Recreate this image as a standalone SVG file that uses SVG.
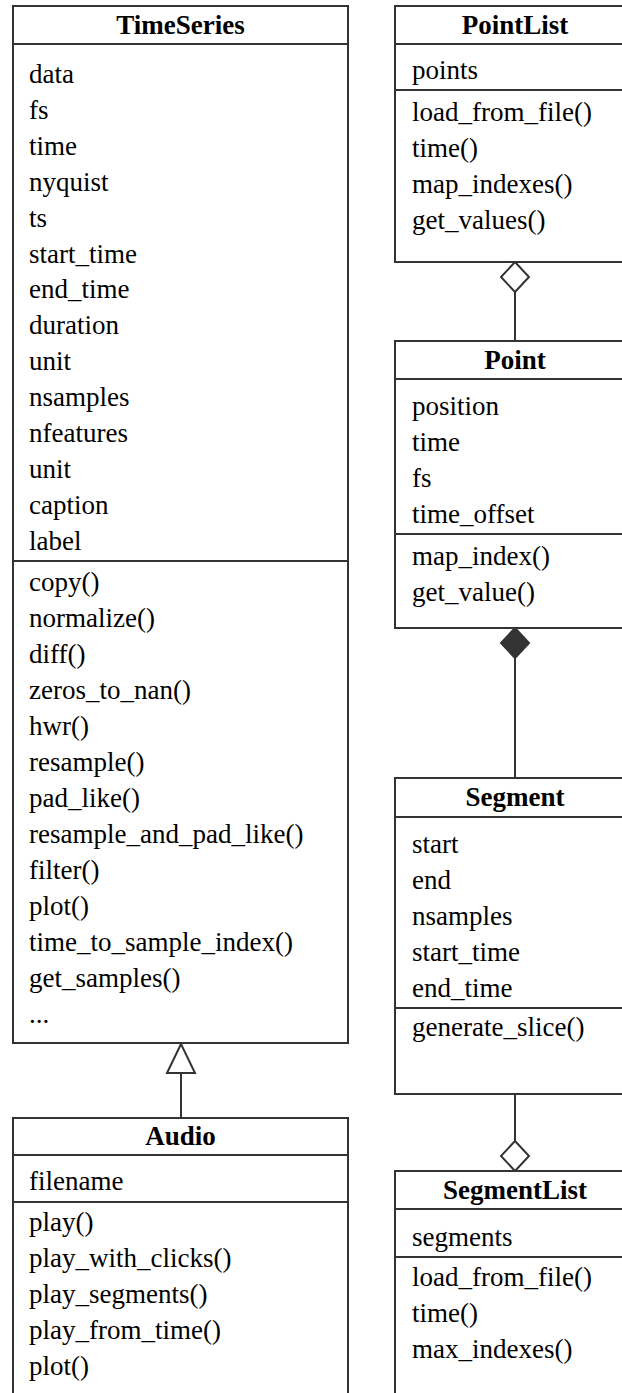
<svg xmlns="http://www.w3.org/2000/svg" width="622" height="1393" viewBox="0 0 622 1393">
<style>
.box{fill:#fff;stroke:#333;stroke-width:2}
.sep{stroke:#333;stroke-width:2}
.t{font-family:"Liberation Serif","Times New Roman",serif;font-size:27px;fill:#000}
.h{font-family:"Liberation Serif","Times New Roman",serif;font-size:27px;font-weight:bold;fill:#000;text-anchor:middle}
.ln{stroke:#333;stroke-width:2;fill:none}
</style>
<rect width="622" height="1393" fill="#fff"/>
<g id="connectors">
<line class="ln" x1="181" y1="1073" x2="181" y2="1118"/>
<polygon class="ln" points="181,1044 167,1073 195,1073" style="fill:#fff"/>
<line class="ln" x1="515" y1="292" x2="515" y2="341"/>
<polygon class="ln" points="515,262 529,277 515,292 501,277" style="fill:#fff"/>
<line class="ln" x1="515" y1="658" x2="515" y2="778"/>
<polygon points="515,628 529,643 515,658 501,643" style="fill:#333;stroke:#333;stroke-width:2"/>
<line class="ln" x1="515" y1="1094" x2="515" y2="1141"/>
<polygon class="ln" points="515,1141 529,1156 515,1171 501,1156" style="fill:#fff"/>
</g>
<g id="TimeSeries">
<rect class="box" x="13" y="6" width="335" height="1037"/>
<line class="sep" x1="13" y1="44" x2="348" y2="44"/>
<line class="sep" x1="13" y1="561" x2="348" y2="561"/>
<text class="h" x="180.5" y="34">TimeSeries</text>
<text class="t" x="29" y="83">data</text>
<text class="t" x="29" y="119">fs</text>
<text class="t" x="29" y="155">time</text>
<text class="t" x="29" y="191">nyquist</text>
<text class="t" x="29" y="227">ts</text>
<text class="t" x="29" y="263">start_time</text>
<text class="t" x="29" y="298">end_time</text>
<text class="t" x="29" y="334">duration</text>
<text class="t" x="29" y="370">unit</text>
<text class="t" x="29" y="406">nsamples</text>
<text class="t" x="29" y="442">nfeatures</text>
<text class="t" x="29" y="478">unit</text>
<text class="t" x="29" y="514">caption</text>
<text class="t" x="29" y="550">label</text>
<text class="t" x="29" y="591">copy()</text>
<text class="t" x="29" y="627">normalize()</text>
<text class="t" x="29" y="663">diff()</text>
<text class="t" x="29" y="699">zeros_to_nan()</text>
<text class="t" x="29" y="735">hwr()</text>
<text class="t" x="29" y="771">resample()</text>
<text class="t" x="29" y="807">pad_like()</text>
<text class="t" x="29" y="843">resample_and_pad_like()</text>
<text class="t" x="29" y="879">filter()</text>
<text class="t" x="29" y="915">plot()</text>
<text class="t" x="29" y="951">time_to_sample_index()</text>
<text class="t" x="29" y="987">get_samples()</text>
<text class="t" x="29" y="1023">...</text>
</g>
<g id="Audio">
<rect class="box" x="13" y="1118" width="335" height="290"/>
<line class="sep" x1="13" y1="1155" x2="348" y2="1155"/>
<line class="sep" x1="13" y1="1202" x2="348" y2="1202"/>
<text class="h" x="180.5" y="1145">Audio</text>
<text class="t" x="29" y="1190">filename</text>
<text class="t" x="29" y="1231">play()</text>
<text class="t" x="29" y="1267">play_with_clicks()</text>
<text class="t" x="29" y="1303">play_segments()</text>
<text class="t" x="29" y="1339">play_from_time()</text>
<text class="t" x="29" y="1375">plot()</text>
</g>
<g id="PointList">
<rect class="box" x="395" y="6" width="241" height="256"/>
<line class="sep" x1="395" y1="44" x2="636" y2="44"/>
<line class="sep" x1="395" y1="90" x2="636" y2="90"/>
<text class="h" x="515" y="34">PointList</text>
<text class="t" x="412" y="79">points</text>
<text class="t" x="412" y="121">load_from_file()</text>
<text class="t" x="412" y="157">time()</text>
<text class="t" x="412" y="193">map_indexes()</text>
<text class="t" x="412" y="229">get_values()</text>
</g>
<g id="Point">
<rect class="box" x="395" y="341" width="241" height="287"/>
<line class="sep" x1="395" y1="379" x2="636" y2="379"/>
<line class="sep" x1="395" y1="534" x2="636" y2="534"/>
<text class="h" x="515" y="369">Point</text>
<text class="t" x="412" y="415">position</text>
<text class="t" x="412" y="451">time</text>
<text class="t" x="412" y="487">fs</text>
<text class="t" x="412" y="523">time_offset</text>
<text class="t" x="412" y="565">map_index()</text>
<text class="t" x="412" y="601">get_value()</text>
</g>
<g id="Segment">
<rect class="box" x="395" y="778" width="241" height="316"/>
<line class="sep" x1="395" y1="817" x2="636" y2="817"/>
<line class="sep" x1="395" y1="1008" x2="636" y2="1008"/>
<text class="h" x="515" y="806">Segment</text>
<text class="t" x="412" y="853">start</text>
<text class="t" x="412" y="889">end</text>
<text class="t" x="412" y="925">nsamples</text>
<text class="t" x="412" y="961">start_time</text>
<text class="t" x="412" y="997">end_time</text>
<text class="t" x="412" y="1036">generate_slice()</text>
</g>
<g id="SegmentList">
<rect class="box" x="395" y="1171" width="241" height="240"/>
<line class="sep" x1="395" y1="1209" x2="636" y2="1209"/>
<line class="sep" x1="395" y1="1257" x2="636" y2="1257"/>
<text class="h" x="515" y="1199">SegmentList</text>
<text class="t" x="412" y="1246">segments</text>
<text class="t" x="412" y="1286">load_from_file()</text>
<text class="t" x="412" y="1322">time()</text>
<text class="t" x="412" y="1358">max_indexes()</text>
</g>
</svg>
